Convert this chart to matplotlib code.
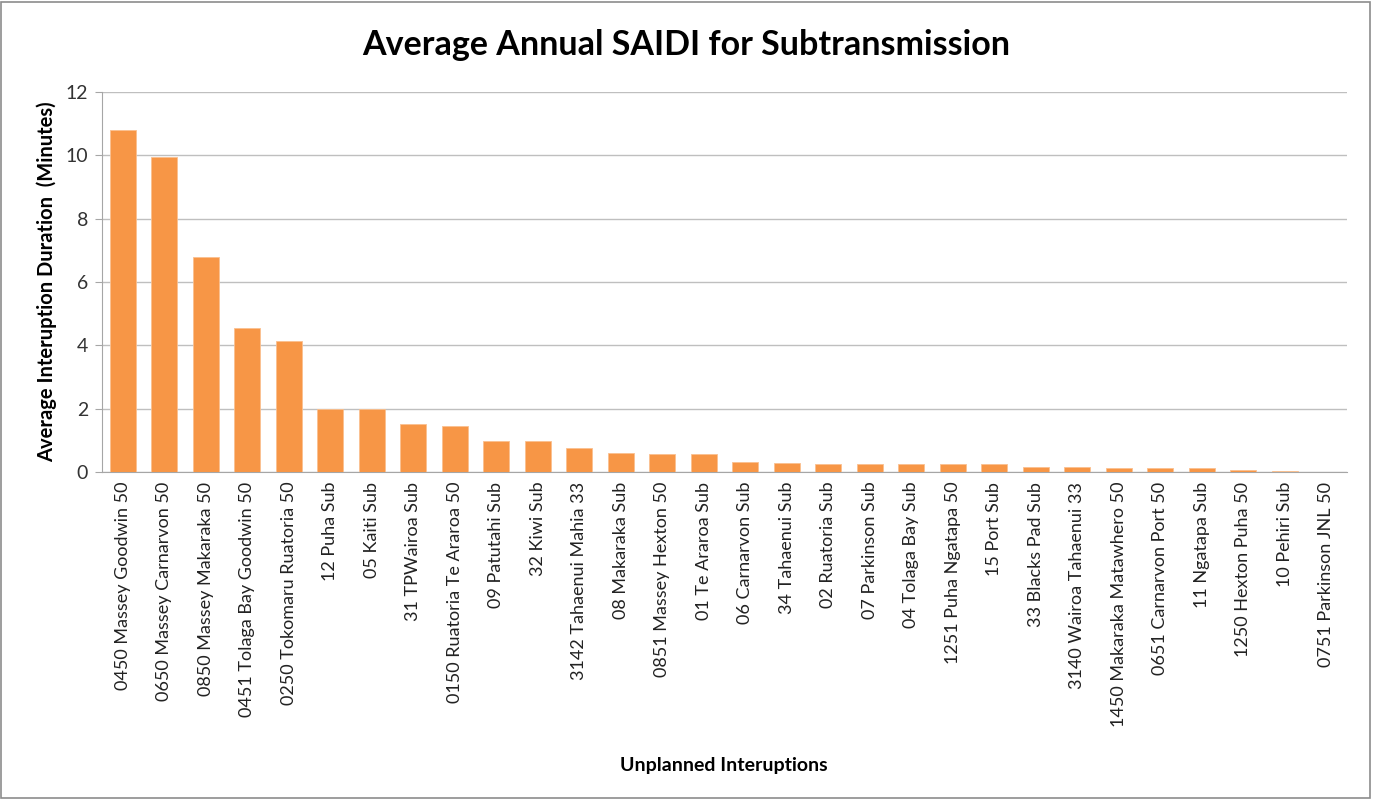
import matplotlib
matplotlib.use("Agg")
from matplotlib import pyplot as plt

# feeder names and average SAIDI (minutes)
feeders = [
    "0450 Massey Goodwin 50", "0650 Massey Carnarvon 50", "0850 Massey Makaraka 50",
    "0451 Tolaga Bay Goodwin 50", "0250 Tokomaru Ruatoria 50", "12 Puha Sub",
    "05 Kaiti Sub", "31 TPWairoa Sub", "0150 Ruatoria Te Araroa 50",
    "09 Patutahi Sub", "32 Kiwi Sub", "3142 Tahaenui Mahia 33",
    "08 Makaraka Sub", "0851 Massey Hexton 50", "01 Te Araroa Sub",
    "06 Carnarvon Sub", "34 Tahaenui Sub", "02 Ruatoria Sub",
    "07 Parkinson Sub", "04 Tolaga Bay Sub", "1251 Puha Ngatapa 50",
    "15 Port Sub", "33 Blacks Pad Sub", "3140 Wairoa Tahaenui 33",
    "1450 Makaraka Matawhero 50", "0651 Carnarvon Port 50", "11 Ngatapa Sub",
    "1250 Hexton Puha 50", "10 Pehiri Sub", "0751 Parkinson JNL 50",
]
saidi = [
    10.8, 9.95, 6.8, 4.55, 4.14, 2.0,
    2.0, 1.52, 1.46, 0.99, 0.99, 0.77,
    0.60, 0.57, 0.57, 0.32, 0.29, 0.25,
    0.25, 0.25, 0.25, 0.25, 0.16, 0.16,
    0.13, 0.13, 0.13, 0.06, 0.03, 0.0,
]
yticks = [0, 2, 4, 6, 8, 10, 12]

plt.rcParams['font.family'] = ['Lato', 'DejaVu Sans']

fig = plt.figure(figsize=(13.73, 8), dpi=100)
# thin grey frame round the whole chart, like the Excel chart area
fig.patches.append(plt.Rectangle((0.001, 0.002), 0.997, 0.995, transform=fig.transFigure,
                                 fill=False, edgecolor='#8c8c8c', linewidth=1.2))

ax = fig.add_axes([0.0743, 0.41, 0.9067, 0.475])
x = range(len(feeders))
ax.bar(x, saidi, width=0.62, color='#F79646', edgecolor='#FAC090', linewidth=0.6, zorder=3)

ax.set_xlim(-0.5, len(feeders) - 0.5)
ax.set_ylim(0, 12)
ax.set_yticks(yticks)
ax.set_yticklabels([str(v) for v in yticks], fontsize=14, color='#333333')
ax.set_xticks(list(x))
ax.set_xticklabels(feeders, rotation=90, fontsize=13, color='#222222')
ax.tick_params(axis='x', length=0, pad=7)
ax.tick_params(axis='y', length=5, color='#a6a6a6', pad=5)

ax.grid(axis='y', color='#bfbfbf', linewidth=1, zorder=0)
for s in ['top', 'right']:
    ax.spines[s].set_visible(False)
ax.spines['left'].set_color('#a6a6a6')
ax.spines['bottom'].set_color('#a6a6a6')

ax.set_ylabel("Average Interuption Duration  (Minutes)", fontsize=14.5,
              fontweight='bold', labelpad=6)
fig.text(0.527, 0.043, "Unplanned Interuptions", ha='center', va='center',
         fontsize=14, fontweight='bold')
fig.text(0.50, 0.944, "Average Annual SAIDI for Subtransmission", ha='center',
         va='center', fontsize=24.5, fontweight='bold')

fig.savefig("out.png", dpi=100)
